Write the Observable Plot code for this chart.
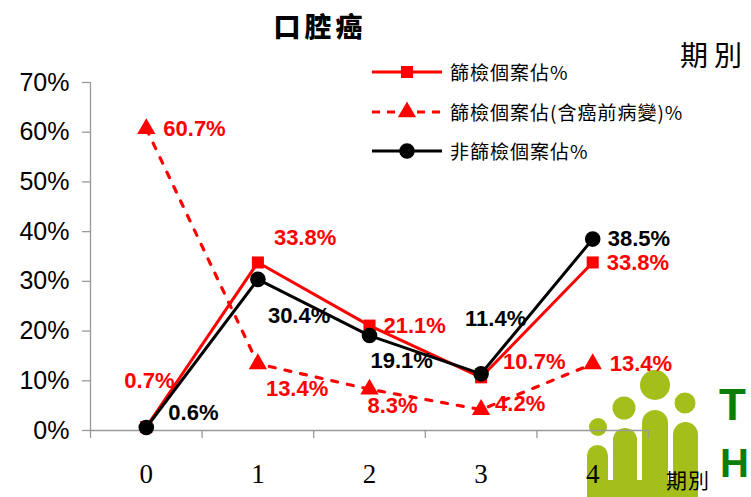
<!DOCTYPE html>
<html><head><meta charset="utf-8">
<script src="https://cdn.jsdelivr.net/npm/d3@7"></script>
<script src="https://cdn.jsdelivr.net/npm/@observablehq/plot@0.6"></script>
<style>
body{margin:0;background:#fff;}
#wrap{position:relative;width:751px;height:497px;overflow:hidden;background:#fff;font-family:"Liberation Sans",Arial,sans-serif;}
#logo{position:absolute;left:0;top:0;z-index:0;}
#chart{position:absolute;left:0;top:0;z-index:1;}
#title{position:absolute;left:270px;top:8px;width:100px;text-align:center;font-family:"Noto Sans CJK TC",sans-serif;font-weight:900;font-size:27px;letter-spacing:4px;color:#000;z-index:2;line-height:36px;}
#period{position:absolute;left:680px;top:36px;font-family:"Noto Sans CJK TC",sans-serif;font-size:28px;letter-spacing:6px;color:#000;line-height:36px;z-index:2;white-space:nowrap;}
#xlabel{position:absolute;left:666px;top:466px;font-family:"Noto Sans CJK TC",sans-serif;font-size:21px;letter-spacing:1px;color:#000;line-height:26px;z-index:2;white-space:nowrap;}
#legend{position:absolute;left:370px;top:56px;z-index:2;}
.lrow{position:absolute;left:0;height:32px;white-space:nowrap;}
.lrow svg{position:absolute;left:0;top:0;}
.lrow span{position:absolute;left:80px;top:2px;font-family:"Noto Sans CJK TC",sans-serif;font-size:19px;line-height:28px;color:#000;letter-spacing:1px;}
</style></head><body>
<div id="wrap">
<svg id="logo" width="751" height="497">
  <g fill="#A4BF1A">
    <circle cx="598" cy="427" r="9"/>
    <circle cx="624" cy="408" r="11.5"/>
    <circle cx="655" cy="385" r="15"/>
    <circle cx="685" cy="403" r="10.5"/>
    <rect x="587" y="445" width="21" height="60" rx="10.5"/>
    <rect x="613" y="428" width="24" height="80" rx="12"/>
    <rect x="642" y="410" width="26" height="100" rx="13"/>
    <rect x="673" y="422" width="25" height="90" rx="12.5"/>
    <rect x="587" y="480" width="111" height="20"/>
  </g>
  <g fill="#0A7D0A" font-family="Liberation Sans, Arial, sans-serif" font-weight="bold">
    <text x="719" y="420" font-size="44">T</text>
    <text x="720" y="477" font-size="40">H</text>
  </g>
</svg>
<div id="chart"></div>
<div id="title">口腔癌</div>
<div id="period">期別</div>
<div id="legend"></div>
<div id="xlabel">期別</div>
</div>
<script>
// ---- data ----
const periods = [0, 1, 2, 3, 4];
const screenPct = [0.7, 33.8, 21.1, 10.7, 33.8];
const screenPrePct = [60.7, 13.4, 8.3, 4.2, 13.4];
const nonScreenPct = [0.6, 30.4, 19.1, 11.4, 38.5];
const yTicks = [0, 10, 20, 30, 40, 50, 60, 70];
const seriesNames = ["篩檢個案佔%", "篩檢個案佔(含癌前病變)%", "非篩檢個案佔%"];

// ---- label placement (pixel offsets) ----
const screenLabelOffsets = [[-22, -46], [16, -25], [14, 0], [22, -15], [14, 0]];
const screenPreLabelOffsets = [[17, 0], [8, 25], [-2, 17], [14, -6], [17, 0]];
const nonScreenLabelOffsets = [[22, -15], [10, 37], [1, 25], [-16, -55], [15, 0]];

const RED = "#FF0000", BLACK = "#000000", GRAY = "#999999";
const rows = vals => periods.map((p, i) => ({p, v: vals[i]}));
const bounds = d3.range(-0.5, periods.length, 1);

function labels(vals, offsets, color) {
  return rows(vals).map((d, i) => Plot.text([d], {
    x: "p", y: "v", text: r => r.v.toFixed(1) + "%",
    dx: offsets[i][0], dy: offsets[i][1], textAnchor: "start",
    fill: color, fontSize: 22, fontWeight: "bold", fontFamily: "Liberation Sans, Arial, sans-serif"
  }));
}

const chart = Plot.plot({
  width: 751, height: 497,
  marginTop: 82, marginBottom: 67, marginLeft: 90, marginRight: 103,
  style: {background: "transparent", overflow: "visible"},
  x: {type: "linear", domain: [-0.5, periods.length - 0.5], label: null},
  y: {domain: [0, 70], label: null},
  marks: [
    Plot.ruleY([0], {stroke: GRAY, strokeWidth: 1.3}),
    Plot.ruleX([-0.5], {stroke: GRAY, strokeWidth: 1.3}),
    Plot.axisX(bounds, {tickSize: 8, tickFormat: () => "", stroke: GRAY, strokeWidth: 1.3, label: null}),
    Plot.axisX(periods, {tickSize: 0, tickPadding: 33, fontSize: 27, fontFamily: "Liberation Serif, Times New Roman, serif", tickFormat: d => String(d), label: null}),
    Plot.axisY(yTicks, {tickSize: 8, tickPadding: 13, fontSize: 25, fontFamily: "Liberation Sans, Arial, sans-serif", tickFormat: d => d + "%", stroke: GRAY, strokeWidth: 1.3, label: null}),
    Plot.line(rows(screenPrePct), {x: "p", y: "v", stroke: RED, strokeWidth: 3.2, strokeDasharray: "6,10"}),
    Plot.dot(rows(screenPrePct), {x: "p", y: "v", symbol: "triangle", r: 6.8, fill: RED}),
    Plot.line(rows(screenPct), {x: "p", y: "v", stroke: RED, strokeWidth: 3}),
    Plot.dot(rows(screenPct), {x: "p", y: "v", symbol: "square", r: 6.8, fill: RED}),
    Plot.line(rows(nonScreenPct), {x: "p", y: "v", stroke: BLACK, strokeWidth: 3}),
    Plot.dot(rows(nonScreenPct), {x: "p", y: "v", symbol: "circle", r: 7.8, fill: BLACK}),
    ...labels(screenPct, screenLabelOffsets, RED),
    ...labels(screenPrePct, screenPreLabelOffsets, RED),
    ...labels(nonScreenPct, nonScreenLabelOffsets, BLACK)
  ]
});
document.getElementById("chart").appendChild(chart);

// ---- legend ----
const legendStyles = [
  {color: RED, dash: null, symbol: d3.symbolSquare, size: 145},
  {color: RED, dash: "8,7", symbol: d3.symbolTriangle, size: 145},
  {color: BLACK, dash: null, symbol: d3.symbolCircle, size: 190}
];
const legendTops = [0, 40, 79];
const legend = document.getElementById("legend");
seriesNames.forEach((name, i) => {
  const s = legendStyles[i];
  const row = document.createElement("div");
  row.className = "lrow";
  row.style.top = legendTops[i] + "px";
  const path = d3.symbol(s.symbol, s.size)();
  row.innerHTML = `<svg width="76" height="32"><line x1="2" x2="72" y1="16" y2="16" stroke="${s.color}" stroke-width="3" ${s.dash ? `stroke-dasharray="${s.dash}"` : ""}/><path d="${path}" transform="translate(37,16)" fill="${s.color}"/></svg><span>${name}</span>`;
  legend.appendChild(row);
});
</script>
</body></html>
